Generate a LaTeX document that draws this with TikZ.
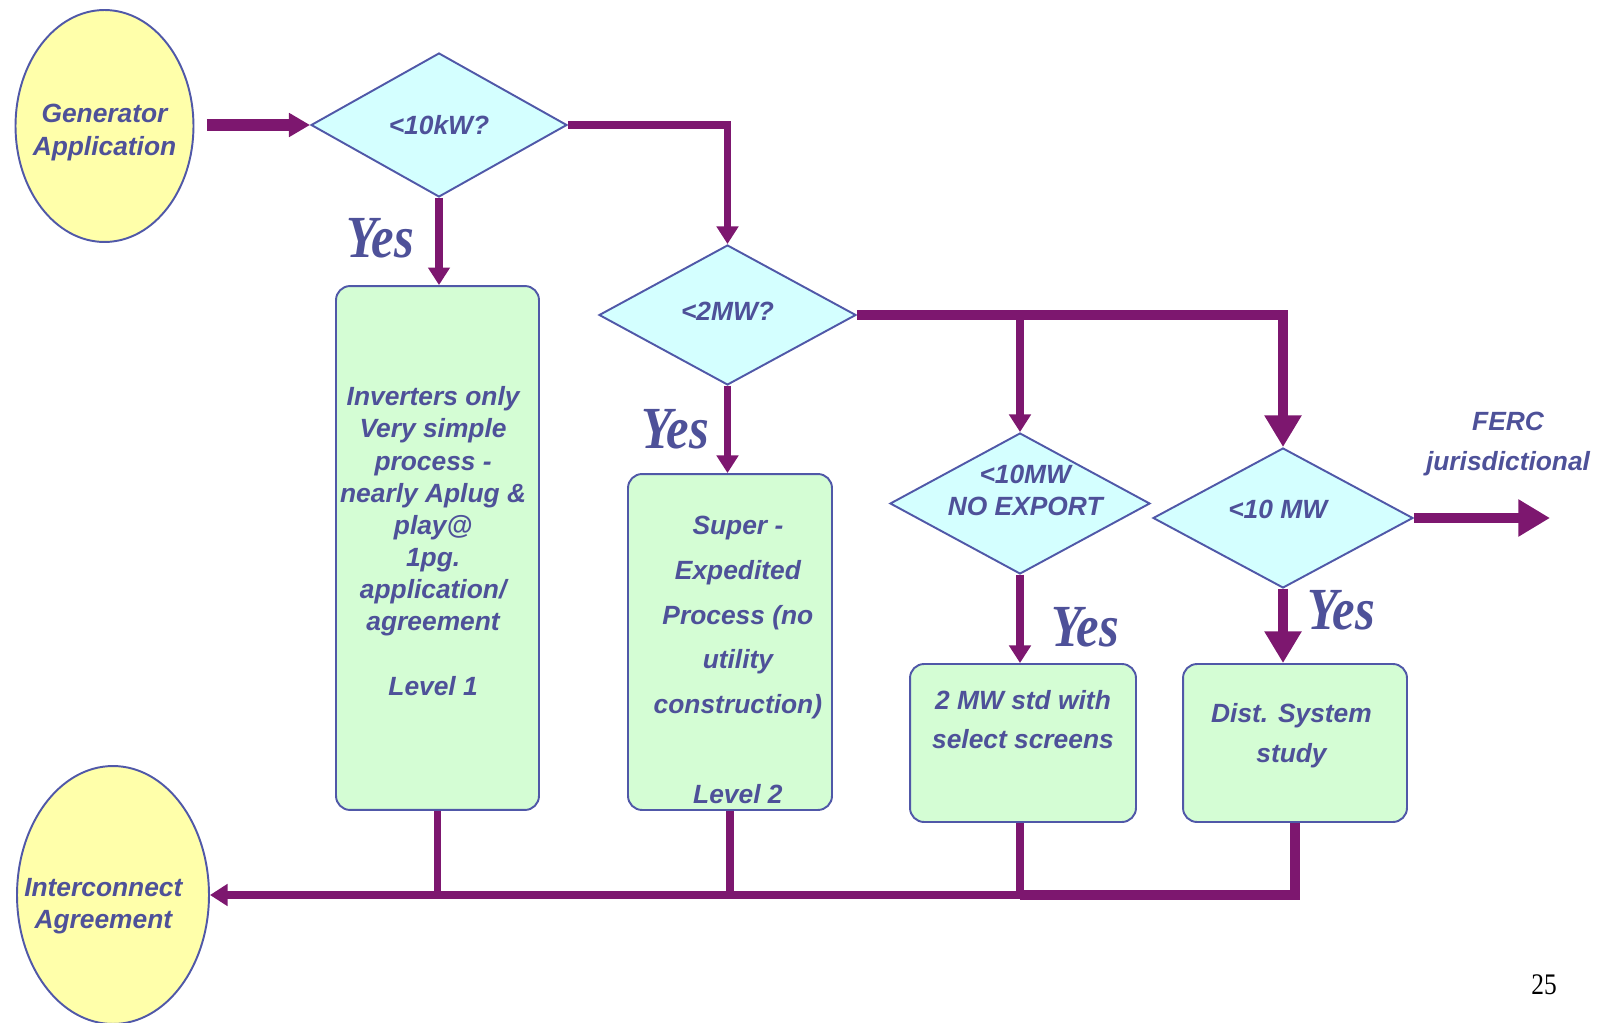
\documentclass[tikz,border=0pt]{standalone}
\usepackage{fontspec}
\usepackage{tikz}
\usetikzlibrary{shapes.geometric}
\usetikzlibrary{arrows.meta}
\newfontfamily\flowfont{Liberation Sans}
\newfontfamily\yesfont{Liberation Serif}[FakeStretch=0.85]
\definecolor{flowline}{HTML}{7D176F}
\definecolor{edgeblue}{HTML}{5058A8}
\definecolor{txtblue}{HTML}{4E5199}
\definecolor{qfill}{HTML}{D4FFFF}
\definecolor{boxfill}{HTML}{D4FDD4}
\definecolor{endfill}{HTML}{FFFFAA}
\newcommand{\flowsize}[1]{\flowfont\bfseries\itshape\fontsize{15pt}{#1}\selectfont}
% text of a shape, moved right by #1 and up by #2
\newsavebox\cellbox
\newcommand{\celltext}[3]{\sbox\cellbox{\begin{tabular}{@{}c@{}}#3\end{tabular}}%
  \makebox[0pt]{\kern#1\kern#1\raisebox{\dimexpr(\dp\cellbox-\ht\cellbox)/2+#2\relax}[0pt][0pt]{\usebox\cellbox}}}
\tikzstyle{terminal}=[ellipse,draw=edgeblue,line width=1.1pt,fill=endfill,inner sep=0pt,text=txtblue,font=\flowsize{18.5pt}]
\tikzstyle{query}=[diamond,draw=edgeblue,line width=1.1pt,fill=qfill,inner sep=0pt,text=txtblue,font=\flowsize{18pt}]
\tikzstyle{stepbox}=[rectangle,rounded corners=8pt,draw=edgeblue,line width=1.1pt,fill=boxfill,inner sep=0pt,text=txtblue]
\tikzstyle{yeslabel}=[text=txtblue,font=\yesfont\bfseries\itshape\fontsize{34pt}{34pt}\selectfont]
\tikzstyle{flow}=[draw=flowline,line width=4.5pt,-{Triangle[length=10pt,width=12pt]}]
\tikzstyle{bigflow}=[draw=flowline,line width=5.7pt,-{Triangle[length=18pt,width=20pt]}]

\begin{document}
\begin{tikzpicture}[x=0.02cm,y=-0.02cm,line cap=butt,line join=miter]
\useasboundingbox (0,0) rectangle (1598,1023);
\node[terminal,minimum width=3.56cm,minimum height=4.64cm] (gen) at (104.5,126) {\celltext{0pt}{-3.8pt}{Generator\\Application}};
\node[terminal,minimum width=3.84cm,minimum height=5.16cm] (inter) at (113,895) {\celltext{-5.5pt}{-6.2pt}{Interconnect\\Agreement}};
% decisions
\node[query,minimum width=5.12cm,minimum height=2.88cm] (d1) at (439,125) {\celltext{0pt}{-1.7pt}{<10kW?}};
\node[query,minimum width=5.14cm,minimum height=2.8cm] (d2) at (727.5,315) {\celltext{0pt}{0.3pt}{<2MW?}};
\node[query,minimum width=5.2cm,minimum height=2.82cm] (d3) at (1020,503.5) {\celltext{3pt}{5.7pt}{<10MW\\NO EXPORT}};
\node[query,minimum width=5.2cm,minimum height=2.8cm] (d4) at (1283,518) {\celltext{-3pt}{3.1pt}{<10 MW}};
% levels
\node[stepbox,minimum width=4.06cm,minimum height=10.48cm,font=\flowsize{18.3pt}] (b1) at (437.5,548) {\celltext{-2.5pt}{2.3pt}{Inverters only\\Very simple\\process -\\nearly Aplug \&\\play@\\1pg.\\application/\\agreement\\ \\Level 1}};
\node[stepbox,minimum width=4.08cm,minimum height=6.72cm,font=\flowsize{25.5pt}] (b2) at (730,642) {\celltext{4.5pt}{-10.2pt}{Super -\\Expedited\\Process (no\\utility\\construction)\\ \\Level 2}};
\node[stepbox,minimum width=4.52cm,minimum height=3.16cm,font=\flowsize{22pt}] (b3) at (1023,743) {\celltext{0pt}{12.3pt}{2 MW std with\\select screens}};
\node[stepbox,minimum width=4.48cm,minimum height=3.16cm,font=\flowsize{22.7pt}] (b4) at (1295,743) {\celltext{-2pt}{4.7pt}{Dist. System\\study}};
\node[yeslabel] (yes1) at (380,238) {Yes};
\node[yeslabel] (yes2) at (675,429) {Yes};
\node[yeslabel] (yes3) at (1085,627) {Yes};
\node[yeslabel] (yes4) at (1341,610) {Yes};
\node[text=txtblue,align=center,font=\flowsize{22.7pt}] (ferc) at (1508,444) {FERC\\jurisdictional};
\node[font=\yesfont\fontsize{17pt}{17pt}\selectfont] (page) at (1544,985) {25};
\coordinate (ferc end) at (1550,518);
\coordinate (bus) at (0,895);
% connectors
\draw[draw=flowline,line width=7pt,-{Triangle[length=12pt,width=13pt]},shorten <=7pt] (gen.east |- d1.west) -- (d1.west);
\draw[flow] (d1.east) -| (d2.north);
\draw[flow] (d1.south) -- (d1.south |- b1.north);
\draw[flow] (d2.south) -- (d2.south |- b2.north);
\draw[bigflow] (d2.east) -| (d4.north);
\draw[flow] (d3.north |- d2.east) -- (d3.north);
\draw[flow] (d3.south) -- (d3.south |- b3.north);
\draw[bigflow] (d4.south) -- (d4.south |- b4.north);
\draw[bigflow] (d4.east) -- (ferc end);
\draw[bigflow,-] (b4.south) |- (d3.south |- bus);
\draw[flow] (d3.south |- bus) -- (inter.east);
\draw[flow,-] (b1.south) -- (b1.south |- bus);
\draw[flow,-] (b2.south) -- (b2.south |- bus);
\draw[flow,-] (d3.south |- b3.south) -- (d3.south |- bus);
\end{tikzpicture}
\end{document}
